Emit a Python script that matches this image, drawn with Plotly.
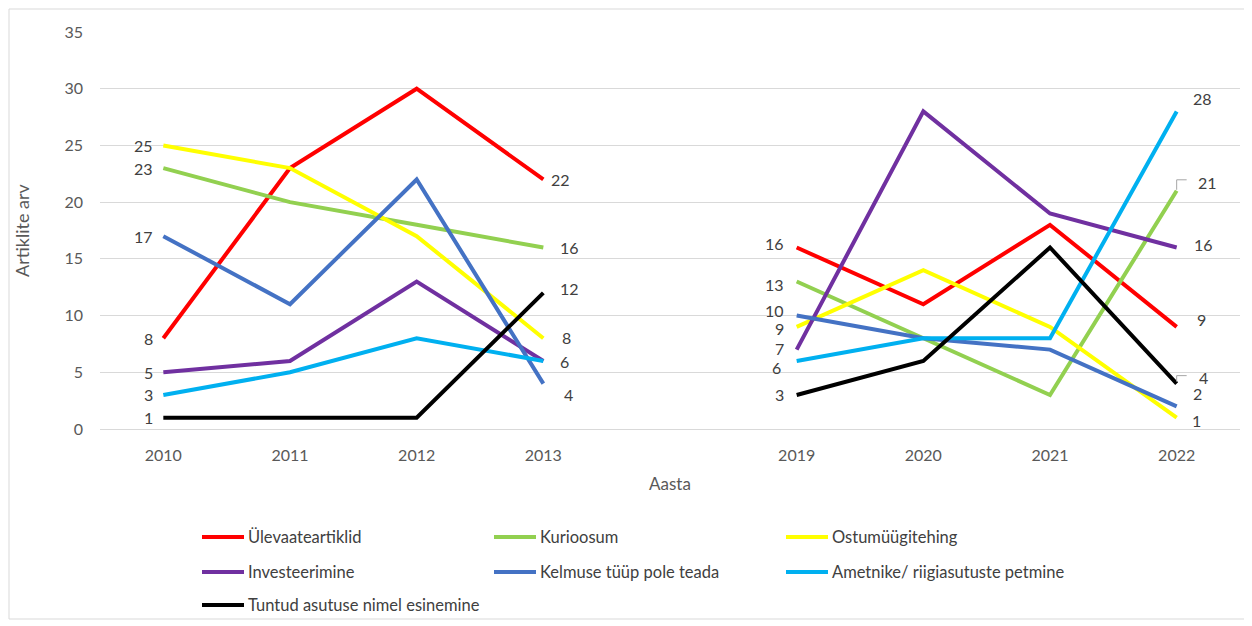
import plotly.graph_objects as go

# ---- data ----
years = ["2010", "2011", "2012", "2013", "", "2019", "2020", "2021", "2022"]
series_names = [
    "Ülevaateartiklid",
    "Kurioosum",
    "Ostumüügitehing",
    "Investeerimine",
    "Kelmuse tüüp pole teada",
    "Ametnike/ riigiasutuste petmine",
    "Tuntud asutuse nimel esinemine",
]
ylevaate = [8, 23, 30, 22, None, 16, 11, 18, 9]
kurioosum = [23, 20, 18, 16, None, 13, 8, 3, 21]
ostumyyk = [25, 23, 17, 8, None, 9, 14, 9, 1]
investeer = [5, 6, 13, 6, None, 7, 28, 19, 16]
kelmus = [17, 11, 22, 4, None, 10, 8, 7, 2]
ametnike = [3, 5, 8, 6, None, 6, 8, 8, 28]
tuntud = [1, 1, 1, 12, None, 3, 6, 16, 4]
series_values = [ylevaate, kurioosum, ostumyyk, investeer, kelmus, ametnike, tuntud]
y_ticks = [0, 5, 10, 15, 20, 25, 30, 35]

xpos = list(range(len(years)))  # slot index of each year on the axis

# ---- styles ----
colors = ["#FF0000", "#92D050", "#FFFF00", "#7030A0", "#4472C4", "#00B0F0", "#000000"]
FONT = "Lato, Carlito, Noto Sans, sans-serif"
label_font = dict(family=FONT, size=16, color="#404040")

# label offsets (px) for endpoint labels: (series index, category index) -> (dx, dy)
label_offsets = {
    (4, 3): (13, -11), (1, 3): (9, 0), (6, 3): (9, 4), (2, 3): (11, 1), (5, 3): (9, -1),
    (3, 3): (9, -1),
    (0, 5): (0, 4), (1, 5): (0, -3), (4, 5): (0, 5), (2, 5): (0, -2), (3, 5): (0, 1),
    (5, 5): (-3, -7),
    (5, 8): (8, 13), (1, 8): (13, 8), (3, 8): (9, 3), (0, 8): (12, 7),
    (6, 8): (14, 6), (4, 8): (8, 13), (2, 8): (7, -3),
}
# small leader brackets for displaced labels: series index -> pixel path relative to point
leaders = {1: "M 0 1 L 0 11 L 10 11", 6: "M 0 2 L 0 8 L 10 8"}

OFF = 8  # page body margin
W, H = 1252, 626
L, T = 100 - OFF, 32 - OFF
R = W - (1240 - OFF)
B = H - (429 - OFF)
PW, PH = W - L - R, H - T - B


def px(x):  # reference pixel -> paper x
    return (x - OFF - L) / PW


def py(y):  # reference pixel -> paper y
    return (H - B - (y - OFF)) / PH


fig = go.Figure()
annotations = []
shapes = []
labelled = set()
for si, (name, vals, col) in enumerate(zip(series_names, series_values, colors)):
    fig.add_trace(go.Scatter(
        x=xpos, y=vals, name=name, mode="lines",
        line=dict(color=col, width=4), connectgaps=False, showlegend=False,
        customdata=years, hovertemplate="%{customdata}: %{y}<extra>" + name + "</extra>",
    ))
    for ci, v in enumerate(vals):
        if v is None:
            continue
        prev_none = ci == 0 or vals[ci - 1] is None
        next_none = ci == len(vals) - 1 or vals[ci + 1] is None
        if not (prev_none or next_none):
            continue
        if (ci, v) in labelled:  # coinciding labels print on top of each other
            continue
        labelled.add((ci, v))
        left = prev_none
        dx, dy = label_offsets.get((si, ci), (0, 0))
        base_dx = (-8 if ci == 0 else -11) if left else 6
        annotations.append(dict(
            x=xpos[ci], y=v, xref="x", yref="y", text=str(v), showarrow=False,
            xanchor="right" if left else "left", yanchor="middle",
            xshift=base_dx + dx, yshift=dy, font=label_font,
        ))
    if si in leaders:
        shapes.append(dict(type="path", xref="x", yref="y", xsizemode="pixel", ysizemode="pixel",
                           xanchor=xpos[-1], yanchor=vals[-1], path=leaders[si],
                           line=dict(color="#a6a6a6", width=1)))

# axis titles
annotations.append(dict(x=px(22), y=py(230), xref="paper", yref="paper", text="Artiklite arv",
                        textangle=-90, showarrow=False, xanchor="center", yanchor="middle",
                        font=dict(family=FONT, size=18, color="#595959")))
annotations.append(dict(x=px(670), y=py(483), xref="paper", yref="paper", text="Aasta",
                        showarrow=False, xanchor="center", yanchor="middle",
                        font=dict(family=FONT, size=17, color="#595959")))

# manual legend (3 columns)
col_x = [202, 494, 786]
row_y = [537, 572, 605]
for i, (name, col) in enumerate(zip(series_names, colors)):
    cx = col_x[i % 3]
    ry = row_y[i // 3]
    shapes.append(dict(type="line", xref="paper", yref="paper", x0=px(cx), x1=px(cx + 42),
                       y0=py(ry), y1=py(ry), line=dict(color=col, width=4)))
    annotations.append(dict(x=px(cx + 44), y=py(ry), xref="paper", yref="paper", text=name,
                            showarrow=False, xanchor="left", yanchor="middle",
                            font=dict(family=FONT, size=16.5, color="#404040")))

# outer border
shapes.append(dict(type="rect", xref="paper", yref="paper", x0=px(9), x1=px(1245),
                   y0=py(619), y1=py(9), line=dict(color="#d9d9d9", width=1), layer="below"))

fig.update_layout(
    width=W, height=H, margin=dict(l=L, r=R, t=T, b=B),
    paper_bgcolor="white", plot_bgcolor="white",
    annotations=annotations, shapes=shapes, showlegend=False,
    xaxis=dict(range=[-0.5, len(years) - 0.5], tickvals=xpos, ticktext=years,
               showgrid=False, zeroline=False, showline=True, linecolor="#d9d9d9", linewidth=1,
               ticks="", ticklabelstandoff=12,
               tickfont=dict(family=FONT, size=16, color="#595959")),
    yaxis=dict(range=[0, 35], tickvals=y_ticks, showgrid=True, gridcolor="#d9d9d9",
               gridwidth=1, zeroline=False, showline=False, ticks="", ticklabelstandoff=16,
               tickfont=dict(family=FONT, size=16, color="#595959")),
)

fig.write_html("out.html")
